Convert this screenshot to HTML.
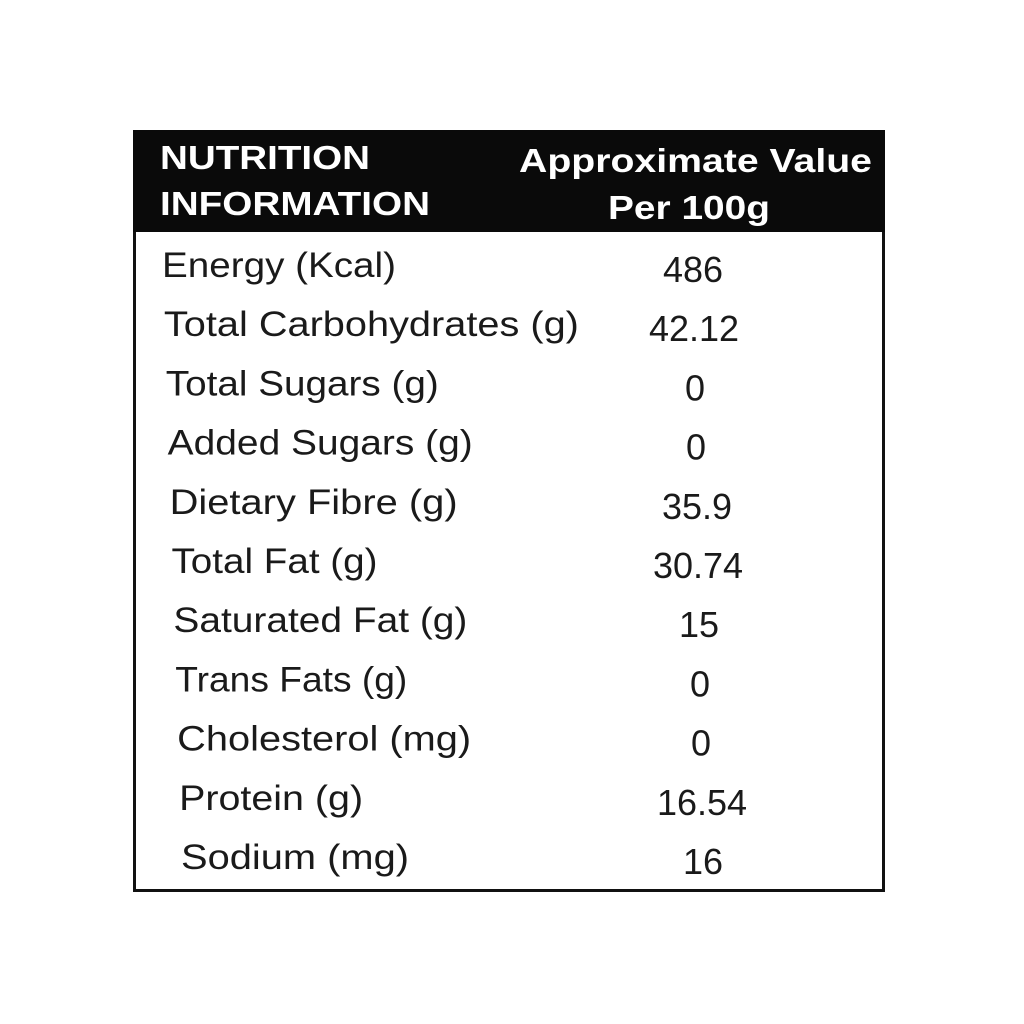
<!DOCTYPE html>
<html><head><meta charset="utf-8"><style>
html,body{margin:0;padding:0;background:#fff;width:1024px;height:1024px;overflow:hidden}
svg{display:block}
text{font-family:"Liberation Sans",sans-serif;fill:#1a1a1a}
</style></head><body>
<svg width="1024" height="1024">
<rect x="0" y="0" width="1024" height="1024" fill="#fff"/>
<rect x="134.5" y="131.5" width="749" height="759" fill="#fff" stroke="#111" stroke-width="3"/>
<rect x="133" y="130" width="752" height="102" fill="#0a0a0a"/>
<g font-weight="bold" font-size="33">
<text x="160" y="169" style="fill:#fff" textLength="210" lengthAdjust="spacingAndGlyphs">NUTRITION</text>
<text x="160" y="215" style="fill:#fff" textLength="270" lengthAdjust="spacingAndGlyphs">INFORMATION</text>
<text x="519" y="172" style="fill:#fff" textLength="353" lengthAdjust="spacingAndGlyphs">Approximate Value</text>
<text x="608" y="219" style="fill:#fff" textLength="162" lengthAdjust="spacingAndGlyphs">Per 100g</text>
</g>
<g id="rows" font-size="35"></g>
</svg>
<script>
const labels=["Energy (Kcal)","Total Carbohydrates (g)","Total Sugars (g)","Added Sugars (g)","Dietary Fibre (g)","Total Fat (g)","Saturated Fat (g)","Trans Fats (g)","Cholesterol (mg)","Protein (g)","Sodium (mg)"];
const values=["486","42.12","0","0","35.9","30.74","15","0","0","16.54","16"];
const labelWidths=[234,415,273,305,288,206,294,232,294,184,228];
const g=document.getElementById('rows');
const ns="http://www.w3.org/2000/svg";
labels.forEach((l,i)=>{
  const y=277+i*59.2;
  const t=document.createElementNS(ns,'text');
  
  
  t.setAttribute('x',162+i*1.9);t.setAttribute('y',y);
  t.setAttribute('textLength',labelWidths[i]);
  t.setAttribute('lengthAdjust','spacingAndGlyphs');
  t.textContent=l;g.appendChild(t);
  const v=document.createElementNS(ns,'text');
  
  
  v.setAttribute('x',693+i*1);v.setAttribute('y',y+5);
  v.setAttribute('text-anchor','middle');
  v.setAttribute('font-size','36');
  v.textContent=values[i];g.appendChild(v);
});
</script>
</body></html>
